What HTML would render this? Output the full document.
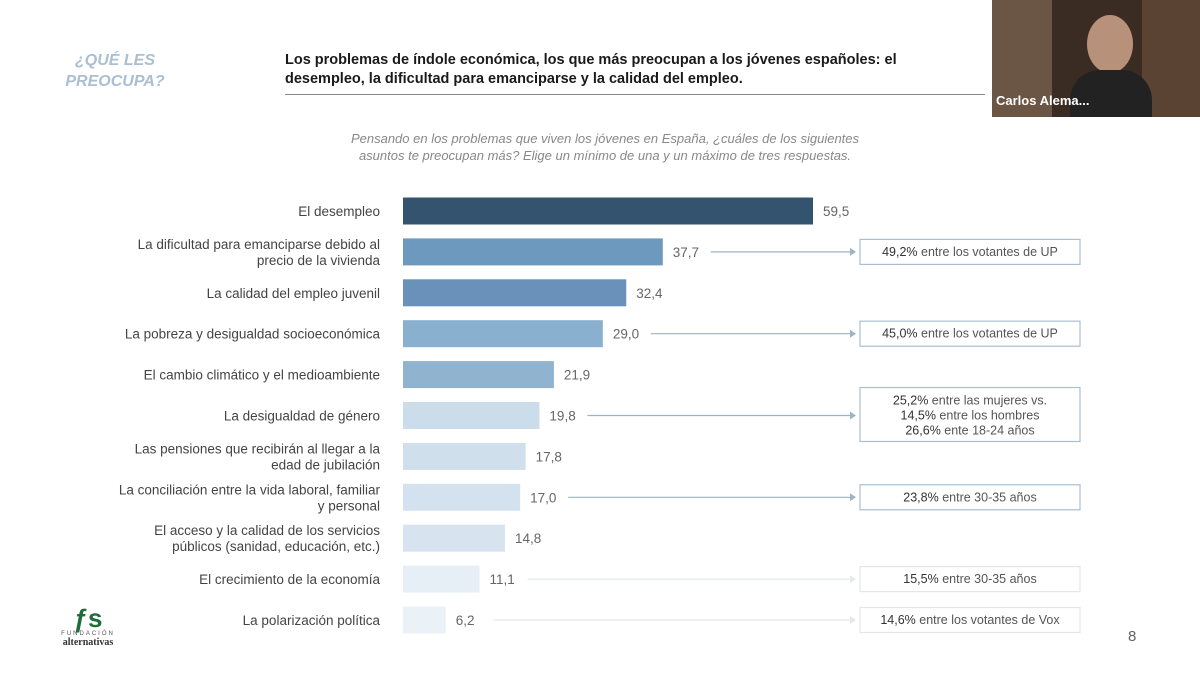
<!DOCTYPE html>
<html><head><meta charset="utf-8">
<style>
body{margin:0;width:1200px;height:673px;background:#fff;font-family:"Liberation Sans",sans-serif;overflow:hidden;position:relative}
.abs{position:absolute}
</style></head><body>
<div class="abs" style="left:50px;top:50px;width:130px;text-align:center;color:#a9bfd2;font-weight:bold;font-style:italic;font-size:16px;line-height:21px">¿QUÉ LES<br>PREOCUPA?</div>
<div class="abs" style="left:285px;top:51px;width:680px;color:#1a1a1a;font-weight:bold;font-size:14.5px;line-height:19px">Los problemas de índole económica, los que más preocupan a los jóvenes españoles: el desempleo, la dificultad para emanciparse y la calidad del empleo.</div>
<div class="abs" style="left:285px;top:94px;width:700px;height:1px;background:#888"></div>
<div class="abs" style="left:270px;top:130px;width:670px;text-align:center;color:#888;font-style:italic;font-size:13px;line-height:17px">Pensando en los problemas que viven los jóvenes en España, ¿cuáles de los siguientes<br>asuntos te preocupan más? Elige un mínimo de una y un máximo de tres respuestas.</div>
<div class="abs" style="left:992px;top:0;width:208px;height:117px;background:#3a2c22">
 <div class="abs" style="left:0;top:0;width:60px;height:117px;background:#6b5544"></div>
 <div class="abs" style="left:150px;top:0;width:58px;height:117px;background:#5a4332"></div>
 <div class="abs" style="left:95px;top:15px;width:46px;height:58px;border-radius:50%;background:#b8917a"></div>
 <div class="abs" style="left:78px;top:70px;width:82px;height:47px;border-radius:30px 30px 0 0;background:#222"></div>
 <div class="abs" style="left:4px;top:93px;color:#fff;font-weight:bold;font-size:13px">Carlos Alema...</div>
</div>
<svg class="abs" style="left:0;top:0" width="1200" height="673" id="chart"></svg>
<div class="abs" style="left:48px;top:605px;width:80px;text-align:center;color:#1f6b3a">
 <div style="font-size:26px;font-weight:bold;line-height:26px">ƒs</div>
 <div style="font-size:6px;letter-spacing:2px;color:#555">FUNDACIÓN</div>
 <div style="font-size:10px;font-weight:bold;color:#333;font-family:'Liberation Serif',serif">alternativas</div>
</div>
<div class="abs" style="left:1128px;top:628px;color:#666;font-size:15px">8</div>
<script>
const categories=["El desempleo","La dificultad para emanciparse debido al|precio de la vivienda","La calidad del empleo juvenil","La pobreza y desigualdad socioeconómica","El cambio climático y el medioambiente","La desigualdad de género","Las pensiones que recibirán al llegar a la|edad de jubilación","La conciliación entre la vida laboral, familiar|y personal","El acceso y la calidad de los servicios|públicos (sanidad, educación, etc.)","El crecimiento de la economía","La polarización política"];
const values=[59.5,37.7,32.4,29.0,21.9,19.8,17.8,17.0,14.8,11.1,6.2];
const notes=["","49,2%|entre los votantes de UP","","45,0%|entre los votantes de UP","","25,2%|entre las mujeres vs.;14,5%|entre los hombres;26,6%|ente 18-24 años","","23,8%|entre 30-35 años","","15,5%|entre 30-35 años","14,6%|entre los votantes de Vox"];
const colors=["#34536e","#6e99bf","#6991b9","#8ab0cf","#90b3d0","#cbdcea","#cfdfec","#d3e2ee","#d7e4ef","#e7eff6","#eaf1f7"];
const svg=document.getElementById('chart');const NS='http://www.w3.org/2000/svg';
const x0=403,scale=410/59.5,y0=211,step=40.9,bh=27;
const xs=v=>x0+v*scale, ys=i=>y0+i*step;
function mk(t,a){const e=document.createElementNS(NS,t);for(const k in a)e.setAttribute(k,a[k]);svg.appendChild(e);return e;}
values.forEach((v,i)=>{
 const cy=ys(i);
 const r=mk('rect',{x:x0,y:cy-bh/2,width:xs(v)-x0,height:bh,fill:colors[i]});
 
 
 const lines=categories[i].split('|');
 lines.forEach((l,j)=>{const t=mk('text',{x:380,y:cy+5+(j-(lines.length-1)/2)*16,'text-anchor':'end','font-size':13.5,fill:'#444'});t.textContent=l;
  
  });
 const vt=mk('text',{x:xs(v)+10,y:cy+5,'font-size':13.5,fill:'#666'});vt.textContent=values[i].toFixed(1).replace('.',',');
 
 
 if(notes[i]){
  const parts=notes[i].split(';');const fade=i>=9;
  const bx=860,bw=220,bhh=parts.length>1?54:25;
  const ax=xs(v)+48;
  const ln=mk('line',{x1:ax,y1:cy,x2:850,y2:cy,stroke:fade?'#e3e8ec':'#9db4c6','stroke-width':1.2});
  
  
  mk('path',{d:`M850 ${cy-4}L856 ${cy}L850 ${cy+4}Z`,fill:fade?'#e3e8ec':'#9db4c6'});
  const b=mk('rect',{x:bx,y:cy-(parts.length>1?28:12.5),width:bw,height:bhh,fill:'#fff',stroke:fade?'#e6e6e6':'#a9bfd0','stroke-width':1.2});
  
  
  parts.forEach((p,j)=>{const [a,c]=p.split('|');
   const t=mk('text',{x:bx+bw/2,y:cy+4+(j-(parts.length-1)/2)*15,'text-anchor':'middle','font-size':12.5,fill:'#555'});
   
   
   const s1=document.createElementNS(NS,'tspan');s1.setAttribute('fill','#333');s1.textContent=a+' ';t.appendChild(s1);
   const s2=document.createElementNS(NS,'tspan');s2.textContent=c;t.appendChild(s2);});
 }
});
</script>
</body></html>
